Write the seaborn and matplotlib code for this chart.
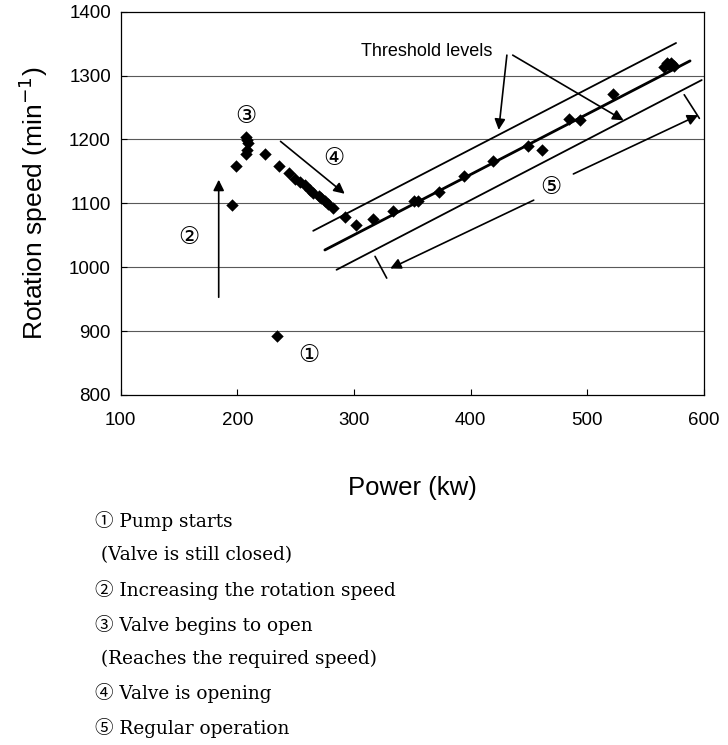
import matplotlib
matplotlib.use("Agg")
import matplotlib.pyplot as plt
import seaborn as sns
import pandas as pd

# ---- data ----
power = [234, 195, 199, 207, 208, 209, 208, 207, 224, 236, 244, 249, 254, 258,
         262, 265, 270, 272, 275, 278, 282, 292, 302, 316, 333, 351, 355, 373,
         394, 419, 449, 461, 484, 494, 522, 566, 568, 570, 572, 574]
speed = [893, 1098, 1158, 1204, 1199, 1194, 1183, 1178, 1178, 1158, 1147, 1138,
         1134, 1129, 1121, 1116, 1112, 1108, 1103, 1099, 1092, 1078, 1066, 1075,
         1088, 1103, 1103, 1118, 1143, 1166, 1190, 1184, 1232, 1231, 1271, 1314,
         1319, 1316, 1319, 1315]

# threshold / operating lines (start power, start speed, end power, end speed)
line_upper = [265, 1057, 576, 1351]
line_mid = [275, 1027, 588, 1323]
line_lower = [285, 996, 598, 1293]

x_ticks = [100, 200, 300, 400, 500, 600]
y_ticks = [800, 900, 1000, 1100, 1200, 1300, 1400]

legend_lines = ["\u2460 Pump starts",
                " (Valve is still closed)",
                "\u2461 Increasing the rotation speed",
                "\u2462 Valve begins to open",
                " (Reaches the required speed)",
                "\u2463 Valve is opening",
                "\u2464 Regular operation"]

sns.set_style("ticks", rc={"text.color": "black", "axes.labelcolor": "black",
                           "xtick.color": "black", "ytick.color": "black"})
plt.rcParams["font.family"] = ["Liberation Sans", "DejaVu Sans", "Noto Sans CJK JP"]

fig = plt.figure(figsize=(7.28, 7.45), dpi=100)
ax = fig.add_axes([0.1658, 0.4698, 0.8013, 0.5145])

df = pd.DataFrame({"Power": power, "Speed": speed})

for yv in [900, 1000, 1100, 1200, 1300]:
    ax.axhline(yv, color="0.35", lw=0.8, zorder=0)

for seg, lw in [(line_upper, 1.3), (line_mid, 2.0), (line_lower, 1.3)]:
    ax.plot([seg[0], seg[2]], [seg[1], seg[3]], color="black", lw=lw, zorder=2)

sns.scatterplot(data=df, x="Power", y="Speed", marker="D", s=40, color="black",
                edgecolor="black", linewidth=0, ax=ax, zorder=3)

ax.set_xlim(100, 600)
ax.set_ylim(800, 1400)
ax.set_xticks(x_ticks)
ax.set_yticks(y_ticks)
ax.tick_params(direction="in", length=4, width=0.8, labelsize=13.5)
ax.tick_params(axis="y", pad=7)
ax.tick_params(axis="x", pad=12)
for sp in ax.spines.values():
    sp.set_linewidth(0.9)
    sp.set_color("black")

ax.set_xlabel("Power (kw)", fontsize=18.5, labelpad=34)
ax.set_ylabel("Rotation speed (min$^{-1}$)", fontsize=19, labelpad=14)

arrow = dict(arrowstyle="-|>", color="black", lw=1.2, mutation_scale=16,
             shrinkA=0, shrinkB=0)
circ = dict(fontsize=17, ha="center", va="center",
            family=["DejaVu Sans", "Noto Sans CJK JP"])

# 1
ax.text(261, 863, "\u2460", **circ)
# 2
ax.annotate("", xy=(184, 1137), xytext=(184, 953), arrowprops=arrow)
ax.text(158, 1047, "\u2461", **circ)
# 3
ax.text(207, 1236, "\u2462", **circ)
# 4
ax.annotate("", xy=(292, 1115), xytext=(237, 1197), arrowprops=arrow)
ax.text(283, 1171, "\u2463", **circ)
# 5
ax.annotate("", xy=(331, 998), xytext=(454, 1105), arrowprops=arrow)
ax.plot([318, 328], [1017, 983], color="black", lw=1.2)
ax.annotate("", xy=(595, 1238), xytext=(488, 1146), arrowprops=arrow)
ax.plot([583, 596], [1270, 1233], color="black", lw=1.2)
ax.text(469, 1126, "\u2464", **circ)

# threshold levels
ax.text(362, 1338, "Threshold levels", fontsize=13, ha="center", va="center")
ax.annotate("", xy=(424, 1215), xytext=(431, 1332), arrowprops=arrow)
ax.annotate("", xy=(531, 1230), xytext=(436, 1332), arrowprops=arrow)

ys = [521, 555, 590, 625, 659, 693, 728]
for txt, yp in zip(legend_lines, ys):
    fig.text(95 / 728, 1 - yp / 745, txt, fontsize=13.3, ha="left", va="center",
             color="black", family=["DejaVu Serif", "Noto Sans CJK JP"])

fig.savefig("out.png", dpi=100)
